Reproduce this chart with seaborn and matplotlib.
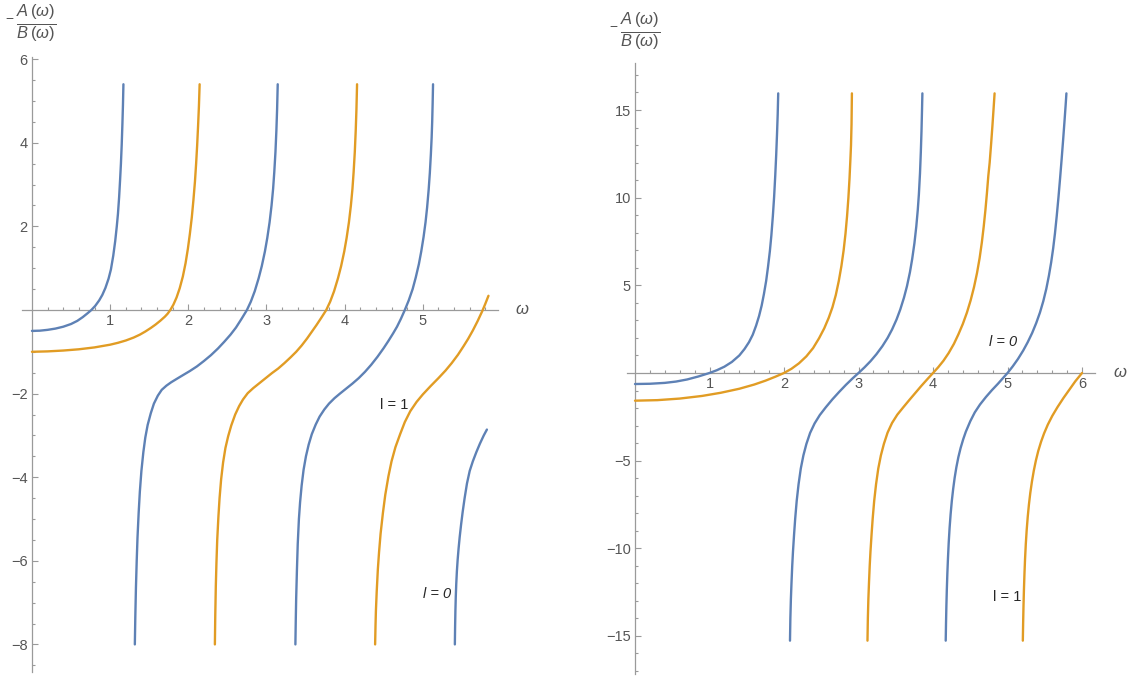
import pandas as pd
import matplotlib
matplotlib.use('Agg')
import matplotlib.pyplot as plt
from matplotlib.ticker import FixedLocator
import seaborn as sns

# ---- painel esquerdo, l = 0 (azul): omega / -A/B ----
left_l0_b1_w = [0, 0.10, 0.20, 0.30, 0.40, 0.50, 0.58, 0.65, 0.71, 0.76, 0.81, 0.86, 0.90, 0.94, 0.98, 1.01,
                1.04, 1.065, 1.085, 1.10, 1.115, 1.127, 1.138, 1.148, 1.157, 1.164, 1.17]
left_l0_b1_v = [-0.50, -0.495, -0.475, -0.445, -0.40, -0.335, -0.26, -0.17, -0.08, 0.0, 0.10, 0.23, 0.36, 0.53,
                0.75, 0.97, 1.3, 1.65, 2.0, 2.3, 2.7, 3.1, 3.5, 3.95, 4.45, 4.9, 5.4]
left_l0_b2_w = [1.316, 1.322, 1.33, 1.34, 1.35, 1.365, 1.38, 1.40, 1.425, 1.45, 1.48, 1.52, 1.56, 1.61, 1.66,
                1.72, 1.78, 1.85, 1.93, 2.02, 2.11, 2.20, 2.29, 2.38, 2.46, 2.54, 2.61, 2.68, 2.75, 2.80,
                2.85, 2.90, 2.94, 2.98, 3.01, 3.04, 3.065, 3.085, 3.10, 3.115, 3.127, 3.136, 3.144]
left_l0_b2_v = [-8.0, -7.35, -6.65, -6.0, -5.45, -4.85, -4.35, -3.85, -3.4, -3.05, -2.75, -2.47, -2.24, -2.05,
                -1.91, -1.81, -1.73, -1.65, -1.56, -1.46, -1.35, -1.22, -1.08, -0.92, -0.76, -0.59, -0.42,
                -0.215, 0.0, 0.2, 0.45, 0.76, 1.05, 1.40, 1.72, 2.10, 2.5, 2.9, 3.3, 3.78, 4.3, 4.8, 5.4]
left_l0_b3_w = [3.37, 3.375, 3.38, 3.39, 3.40, 3.415, 3.43, 3.45, 3.475, 3.505, 3.54, 3.58, 3.63, 3.68, 3.74,
                3.80, 3.87, 3.94, 4.02, 4.10, 4.18, 4.26, 4.34, 4.42, 4.50, 4.56, 4.62, 4.67, 4.72, 4.77,
                4.82, 4.87, 4.91, 4.95, 4.98, 5.01, 5.035, 5.055, 5.075, 5.09, 5.103, 5.113, 5.12, 5.126,
                5.131]
left_l0_b3_v = [-8.0, -7.4, -6.9, -6.2, -5.6, -5.0, -4.6, -4.2, -3.82, -3.5, -3.22, -2.97, -2.74, -2.55, -2.38,
                -2.24, -2.11, -2.0, -1.88, -1.76, -1.63, -1.48, -1.31, -1.12, -0.91, -0.74, -0.56, -0.40,
                -0.21, 0.0, 0.23, 0.5, 0.78, 1.1, 1.4, 1.75, 2.1, 2.45, 2.88, 3.28, 3.72, 4.12, 4.5, 4.95,
                5.4]
left_l0_b4_w = [5.41, 5.413, 5.417, 5.422, 5.428, 5.436, 5.446, 5.458, 5.472, 5.49, 5.51, 5.535, 5.565, 5.60,
                5.64, 5.685, 5.73, 5.78, 5.82]
left_l0_b4_v = [-8.0, -7.6, -7.2, -6.85, -6.55, -6.25, -5.97, -5.7, -5.43, -5.13, -4.83, -4.5, -4.15, -3.85,
                -3.62, -3.4, -3.2, -3.0, -2.86]

# ---- painel esquerdo, l = 1 (laranja) ----
left_l1_b1_w = [0, 0.2, 0.4, 0.6, 0.8, 1.0, 1.1, 1.2, 1.3, 1.38, 1.45, 1.52, 1.58, 1.64, 1.70, 1.735, 1.77,
                1.81, 1.85, 1.89, 1.93, 1.965, 1.995, 2.02, 2.045, 2.065, 2.085, 2.10, 2.113, 2.125, 2.136,
                2.145]
left_l1_b1_v = [-1.0, -0.99, -0.97, -0.94, -0.895, -0.83, -0.785, -0.73, -0.66, -0.59, -0.515, -0.43, -0.35,
                -0.26, -0.16, -0.09, 0.0, 0.13, 0.30, 0.52, 0.80, 1.12, 1.47, 1.82, 2.22, 2.62, 3.07, 3.5,
                3.93, 4.4, 4.88, 5.4]
left_l1_b2_w = [2.34, 2.345, 2.352, 2.36, 2.37, 2.385, 2.40, 2.42, 2.445, 2.475, 2.51, 2.55, 2.60, 2.65, 2.70,
                2.76, 2.83, 2.91, 2.99, 3.07, 3.15, 3.23, 3.31, 3.38, 3.45, 3.52, 3.58, 3.64, 3.70, 3.765,
                3.815, 3.865, 3.915, 3.955, 3.995, 4.025, 4.055, 4.08, 4.10, 4.115, 4.13, 4.142, 4.151,
                4.159]
left_l1_b2_v = [-8.0, -7.3, -6.6, -6.05, -5.5, -4.95, -4.5, -4.05, -3.65, -3.3, -3.02, -2.76, -2.5, -2.3, -2.14,
                -1.99, -1.87, -1.75, -1.63, -1.51, -1.40, -1.27, -1.13, -1.0, -0.85, -0.68, -0.52, -0.36,
                -0.19, 0.0, 0.2, 0.45, 0.76, 1.05, 1.40, 1.72, 2.10, 2.5, 2.9, 3.3, 3.78, 4.3, 4.8, 5.4]
left_l1_b3_w = [4.39, 4.395, 4.40, 4.41, 4.425, 4.44, 4.46, 4.49, 4.52, 4.56, 4.60, 4.65, 4.71, 4.77, 4.84,
                4.92, 5.00, 5.10, 5.20, 5.29, 5.37, 5.45, 5.52, 5.58, 5.64, 5.70, 5.76, 5.80, 5.84]
left_l1_b3_v = [-8.0, -7.55, -7.2, -6.75, -6.2, -5.8, -5.35, -4.85, -4.42, -3.98, -3.62, -3.28, -2.97, -2.68,
                -2.42, -2.2, -2.02, -1.82, -1.63, -1.45, -1.27, -1.07, -0.87, -0.69, -0.49, -0.27, -0.03,
                0.15, 0.34]

# ---- painel direito, l = 0 (azul) ----
right_l0_b1_w = [0, 0.2, 0.4, 0.55, 0.7, 0.85, 1.0, 1.1, 1.2, 1.3, 1.40, 1.47, 1.53, 1.58, 1.625, 1.665, 1.70,
                 1.73, 1.76, 1.785, 1.81, 1.83, 1.85, 1.867, 1.882, 1.895, 1.906, 1.915, 1.922]
right_l0_b1_v = [-0.63, -0.615, -0.565, -0.49, -0.37, -0.2, 0.0, 0.16, 0.36, 0.63, 1.0, 1.37, 1.76, 2.18, 2.7,
                 3.25, 3.85, 4.5, 5.25, 6.05, 6.95, 7.85, 8.95, 10.05, 11.25, 12.45, 13.65, 14.75, 15.95]
right_l0_b2_w = [2.08, 2.085, 2.092, 2.10, 2.11, 2.12, 2.135, 2.15, 2.17, 2.195, 2.225, 2.26, 2.30, 2.35, 2.41,
                 2.48, 2.56, 2.65, 2.74, 2.83, 2.92, 3.0, 3.08, 3.16, 3.24, 3.32, 3.39, 3.45, 3.51, 3.56,
                 3.61, 3.65, 3.69, 3.72, 3.75, 3.775, 3.795, 3.81, 3.825, 3.836, 3.845, 3.852, 3.857]
right_l0_b2_v = [-15.27, -14.0, -12.9, -12.0, -11.0, -10.2, -9.2, -8.3, -7.3, -6.35, -5.45, -4.7, -4.05, -3.42,
                 -2.88, -2.4, -1.96, -1.5, -1.08, -0.68, -0.31, 0.0, 0.32, 0.67, 1.07, 1.53, 2.0, 2.48, 3.05,
                 3.62, 4.3, 4.95, 5.75, 6.5, 7.4, 8.35, 9.3, 10.2, 11.4, 12.6, 13.8, 15.0, 15.95]
right_l0_b3_w = [4.17, 4.174, 4.179, 4.185, 4.192, 4.20, 4.21, 4.222, 4.236, 4.252, 4.27, 4.29, 4.313, 4.34,
                 4.37, 4.405, 4.44, 4.50, 4.56, 4.63, 4.71, 4.79, 4.87, 4.935, 5.0, 5.07, 5.14, 5.21, 5.27,
                 5.33, 5.385, 5.435, 5.48, 5.52, 5.555, 5.585, 5.612, 5.636, 5.66, 5.683, 5.705, 5.726,
                 5.746, 5.765, 5.78, 5.79]
right_l0_b3_v = [-15.27, -14.3, -13.3, -12.35, -11.45, -10.6, -9.7, -8.85, -8.05, -7.3, -6.62, -5.98, -5.38,
                 -4.8, -4.28, -3.78, -3.35, -2.75, -2.25, -1.8, -1.37, -0.98, -0.62, -0.31, 0.0, 0.38, 0.8,
                 1.28, 1.75, 2.28, 2.85, 3.45, 4.1, 4.8, 5.55, 6.3, 7.1, 7.95, 8.95, 10.0, 11.1, 12.2, 13.3,
                 14.4, 15.3, 15.95]

# ---- painel direito, l = 1 (laranja) ----
right_l1_b1_w = [0, 0.3, 0.6, 0.9, 1.15, 1.4, 1.6, 1.75, 1.88, 2.0, 2.1, 2.2, 2.3, 2.39, 2.47, 2.54, 2.60,
                 2.65, 2.695, 2.735, 2.77, 2.80, 2.825, 2.846, 2.864, 2.879, 2.891, 2.899, 2.906, 2.911]
right_l1_b1_v = [-1.58, -1.55, -1.46, -1.31, -1.13, -0.9, -0.66, -0.44, -0.22, 0.0, 0.24, 0.55, 0.95, 1.42,
                 1.98, 2.55, 3.15, 3.75, 4.45, 5.25, 6.1, 7.0, 7.95, 8.95, 10.0, 11.1, 12.2, 13.0, 14.2, 15.95]
right_l1_b2_w = [3.12, 3.125, 3.132, 3.14, 3.15, 3.16, 3.175, 3.19, 3.21, 3.235, 3.265, 3.30, 3.34, 3.39, 3.45,
                 3.52, 3.60, 3.68, 3.76, 3.84, 3.92, 4.0, 4.07, 4.14, 4.21, 4.28, 4.34, 4.40, 4.455, 4.505,
                 4.55, 4.59, 4.625, 4.655, 4.68, 4.703, 4.723, 4.742, 4.76, 4.78, 4.797, 4.812, 4.826]
right_l1_b2_v = [-15.27, -14.0, -12.9, -12.0, -11.0, -10.2, -9.2, -8.3, -7.3, -6.35, -5.45, -4.7, -4.05, -3.4,
                 -2.85, -2.38, -1.96, -1.55, -1.15, -0.75, -0.37, 0.0, 0.33, 0.7, 1.14, 1.66, 2.2, 2.8, 3.45,
                 4.15, 4.9, 5.7, 6.55, 7.45, 8.35, 9.3, 10.25, 11.25, 12.0, 13.1, 14.1, 15.05, 15.95]
right_l1_b3_w = [5.205, 5.209, 5.214, 5.22, 5.227, 5.235, 5.245, 5.257, 5.271, 5.287, 5.305, 5.327, 5.352,
                 5.38, 5.412, 5.45, 5.49, 5.54, 5.60, 5.67, 5.75, 5.83, 5.91, 6.0]
right_l1_b3_v = [-15.27, -14.3, -13.3, -12.35, -11.45, -10.6, -9.75, -8.95, -8.2, -7.5, -6.85, -6.2, -5.58,
                 -5.0, -4.45, -3.92, -3.45, -2.95, -2.45, -1.95, -1.43, -0.95, -0.47, 0.0]

left_x_ticks = [1, 2, 3, 4, 5]
left_y_ticks = [-8, -6, -4, -2, 2, 4, 6]
right_x_ticks = [1, 2, 3, 4, 5, 6]
right_y_ticks = [-15, -10, -5, 5, 10, 15]

BLUE = '#5E81B5'
ORANGE = '#E19C24'
AXIS_GRAY = '#9a9a9a'
TEXT_GRAY = '#555555'


def branches_frame(branches):
    """Monta um DataFrame longo: uma linha por ponto, com l e ramo"""
    rows = []
    for l_val, name, w, v in branches:
        for wi, vi in zip(w, v):
            rows.append({'omega': wi, 'value': vi, 'l': l_val, 'branch': name})
    return pd.DataFrame(rows)


def style_axes(ax, xlim, ylim, xticks, yticks, xminor, yminor):
    ax.set_xlim(*xlim)
    ax.set_ylim(*ylim)
    for side in ['top', 'right']:
        ax.spines[side].set_visible(False)
    for side in ['left', 'bottom']:
        ax.spines[side].set_position(('data', 0))
        ax.spines[side].set_color(AXIS_GRAY)
        ax.spines[side].set_linewidth(0.9)
    ax.xaxis.set_major_locator(FixedLocator(xticks))
    ax.yaxis.set_major_locator(FixedLocator(yticks))
    ax.xaxis.set_minor_locator(FixedLocator(xminor))
    ax.yaxis.set_minor_locator(FixedLocator(yminor))
    ax.set_xticklabels([str(t) for t in xticks])
    ax.set_yticklabels([str(t).replace('-', '\u2212') for t in yticks])
    ax.tick_params(which='both', direction='in', color=AXIS_GRAY, width=0.8,
                   bottom=True, left=True, top=False, right=False,
                   labelcolor=TEXT_GRAY, labelsize=10.5)
    ax.tick_params(which='major', length=4.5, pad=3)
    ax.tick_params(which='minor', length=2.5)
    ax.set_xlabel('')
    ax.set_ylabel('')
    ax.set_facecolor('white')


sns.set_style('white')
plt.rcParams['font.family'] = ['Liberation Sans', 'DejaVu Sans']
plt.rcParams['mathtext.fontset'] = 'custom'
plt.rcParams['mathtext.rm'] = 'Liberation Sans'
plt.rcParams['mathtext.it'] = 'Liberation Sans:italic'

fig = plt.figure(figsize=(11.29, 6.8), dpi=100)
ax_l = fig.add_axes([0.01966, 0.01176, 0.4213, 0.9049])
ax_r = fig.add_axes([0.5552, 0.0081, 0.4151, 0.8997])

left_df = branches_frame([
    (0, 'b1', left_l0_b1_w, left_l0_b1_v),
    (0, 'b2', left_l0_b2_w, left_l0_b2_v),
    (0, 'b3', left_l0_b3_w, left_l0_b3_v),
    (0, 'b4', left_l0_b4_w, left_l0_b4_v),
    (1, 'c1', left_l1_b1_w, left_l1_b1_v),
    (1, 'c2', left_l1_b2_w, left_l1_b2_v),
    (1, 'c3', left_l1_b3_w, left_l1_b3_v),
])
right_df = branches_frame([
    (0, 'b1', right_l0_b1_w, right_l0_b1_v),
    (0, 'b2', right_l0_b2_w, right_l0_b2_v),
    (0, 'b3', right_l0_b3_w, right_l0_b3_v),
    (1, 'c1', right_l1_b1_w, right_l1_b1_v),
    (1, 'c2', right_l1_b2_w, right_l1_b2_v),
    (1, 'c3', right_l1_b3_w, right_l1_b3_v),
])

palette = {0: BLUE, 1: ORANGE}
for ax, df in [(ax_l, left_df), (ax_r, right_df)]:
    sns.lineplot(data=df, x='omega', y='value', hue='l', units='branch', estimator=None,
                 sort=False, palette=palette, linewidth=1.7, legend=False, ax=ax, zorder=3)

style_axes(ax_l, (-0.125, 5.96), (-8.66, 6.06), left_x_ticks, left_y_ticks,
           [i * 0.2 for i in range(1, 30) if i % 5], [i * 0.5 for i in range(-17, 13) if i % 4 and i])
style_axes(ax_r, (-0.11, 6.18), (-17.2, 17.7), right_x_ticks, right_y_ticks,
           [i * 0.2 for i in range(1, 31) if i % 5], [i for i in range(-17, 18) if i % 5])

# rotulos dos eixos
ax_l.text(6.18, 0, '\u03c9', style='italic', color=TEXT_GRAY, fontsize=12,
          ha='left', va='center', clip_on=False)
ax_r.text(6.42, 0, '\u03c9', style='italic', color=TEXT_GRAY, fontsize=12,
          ha='left', va='center', clip_on=False)
frac = r'$\frac{A\,(\omega)}{B\,(\omega)}$'
fig.text(0.0319, 0.966, frac, color=TEXT_GRAY, fontsize=17, ha='center', va='center')
fig.text(0.0080, 0.972, '\u2212', color=TEXT_GRAY, fontsize=10, ha='center', va='center')
fig.text(0.5670, 0.954, frac, color=TEXT_GRAY, fontsize=17, ha='center', va='center')
fig.text(0.5435, 0.960, '\u2212', color=TEXT_GRAY, fontsize=10, ha='center', va='center')

# anotacoes l = 0 / l = 1
ax_l.text(4.64, -2.28, 'l = 1', fontsize=10.5, ha='center', va='center')
ax_l.text(5.18, -6.8, 'l = 0', fontsize=10.5, style='italic', ha='center', va='center')
ax_r.text(4.94, 1.77, 'l = 0', fontsize=10.5, style='italic', ha='center', va='center')
ax_r.text(5.0, -12.8, 'l = 1', fontsize=10.5, ha='center', va='center')

fig.savefig('out.png', dpi=100, facecolor='white')
